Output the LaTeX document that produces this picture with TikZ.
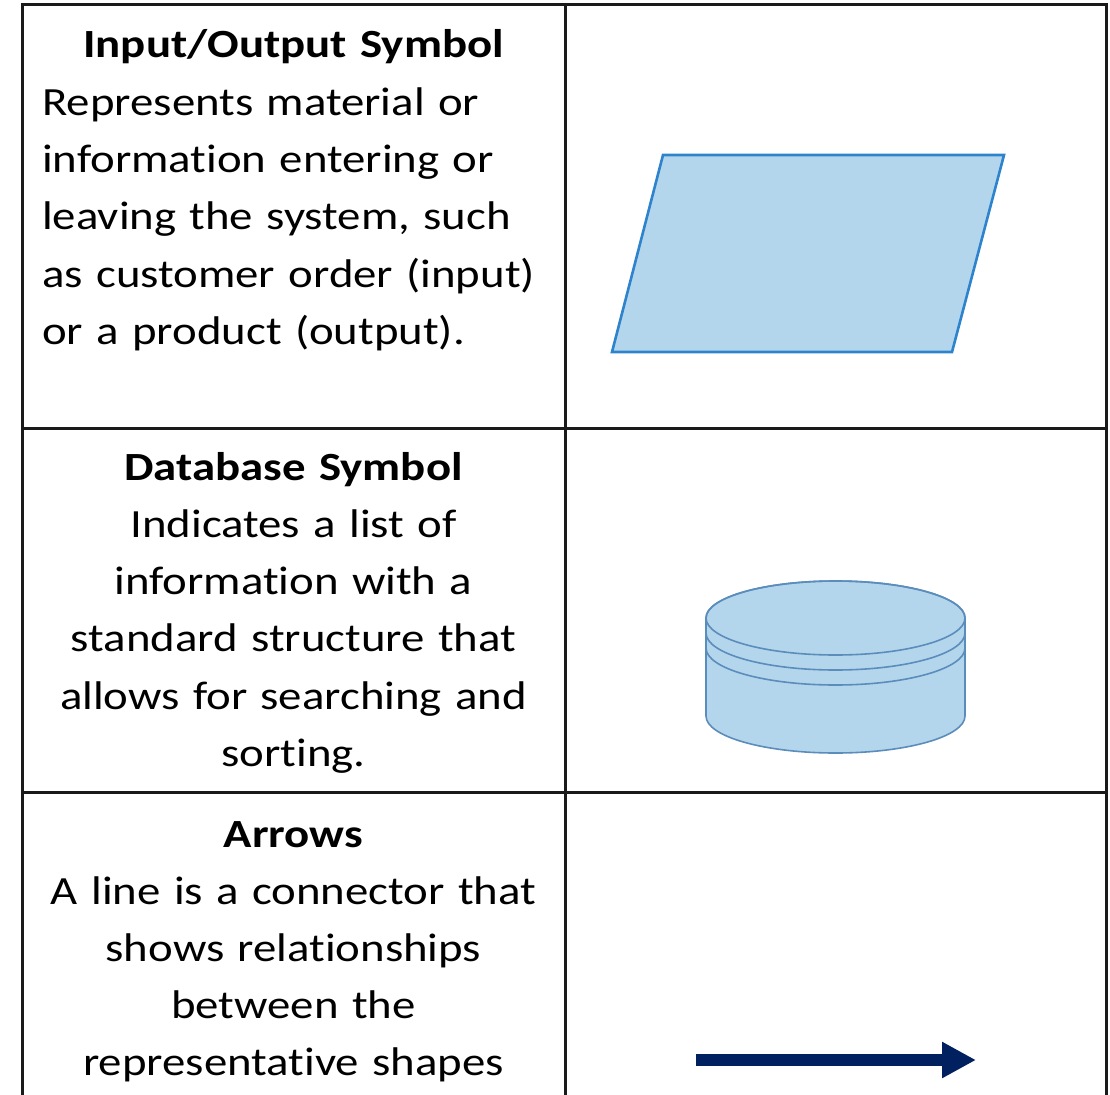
\documentclass[tikz,border=0pt]{standalone}
\usepackage{fontspec}
\setmainfont{Carlito}[FakeStretch=1.17, Ligatures=NoCommon]
\usetikzlibrary{arrows.meta}

\definecolor{gridline}{HTML}{1A1A1A}
\definecolor{shapefill}{HTML}{B4D6EC}
\definecolor{ioedge}{HTML}{2E84CC}
\definecolor{dbedge}{HTML}{5B8DBC}
\definecolor{navy}{HTML}{002060}

\tikzset{
  gridrule/.style={draw=gridline, line width=3pt},
  celltext/.style={inner sep=0pt, anchor=base, text width=540pt, align=center,
    font=\fontsize{40}{57.3}\selectfont},
  bodyleft/.style={inner sep=0pt, anchor=base west, text width=520pt, align=left,
    font=\fontsize{40}{57.3}\selectfont},
  iosym/.style={fill=shapefill, draw=ioedge, line width=2.6pt, line join=miter},
  dbsym/.style={fill=shapefill, draw=dbedge, line width=1.6pt},
  flowarrow/.style={draw=navy, line width=12pt, -{Triangle[length=34pt,width=34pt]}}
}

\begin{document}
\begin{tikzpicture}[x=1pt, y=-1pt]
  \useasboundingbox (0,0) rectangle (1110,1094);
  \fill[white] (0,0) rectangle (1110,1094);

  % table rules
  \draw[gridrule] (22,5) -- (1106,5);
  \draw[gridrule] (22,428) -- (1106,428);
  \draw[gridrule] (22,792) -- (1106,792);
  \draw[gridrule] (22,3.5) -- (22,1100);
  \draw[gridrule] (565.5,3.5) -- (565.5,1100);
  \draw[gridrule] (1106,3.5) -- (1106,1100);

  % row 1: input / output
  \node[celltext] (iotitle) at (293.5,58) {\bfseries Input/Output Symbol};
  \node[bodyleft] (iobody) at (42,115.3) {Represents material or\\
    information entering or\\ leaving the system, such\\
    as customer order (input)\\ or a product (output).};
  \path[iosym] (663,155) -- (1004,155) -- (952,352) -- (612,352) -- cycle;

  % row 2: database (y axis points down, so lower halves run 180 -> 0)
  \node[celltext] (dbtitle) at (293.5,480) {\bfseries Database Symbol};
  \node[celltext] (dbbody) at (293.5,537.3) {Indicates a list of\\
    information with a\\ standard structure that\\
    allows for searching and\\ sorting.};
  \path[dbsym] (706,618) -- (706,716) arc[start angle=180, end angle=0,
    x radius=129.5, y radius=37] -- (965,618) arc[start angle=0, end angle=-180,
    x radius=129.5, y radius=37] -- cycle;
  \draw[dbsym, fill=none] (835.5,618) ellipse[x radius=129.5, y radius=37];
  \draw[dbsym, fill=none] (706,633) arc[start angle=180, end angle=0,
    x radius=129.5, y radius=37];
  \draw[dbsym, fill=none] (706,648) arc[start angle=180, end angle=0,
    x radius=129.5, y radius=37];

  % row 3: arrows
  \node[celltext] (artitle) at (293.5,847) {\bfseries Arrows};
  \node[celltext] (arbody) at (293.5,904) {A line is a connector that\\
    shows relationships\\ between the\\ representative shapes};
  \coordinate (arstart) at (696,1060);
  \coordinate (arend) at (976,1060);
  \draw[flowarrow] (arstart) -- (arend);
\end{tikzpicture}
\end{document}
